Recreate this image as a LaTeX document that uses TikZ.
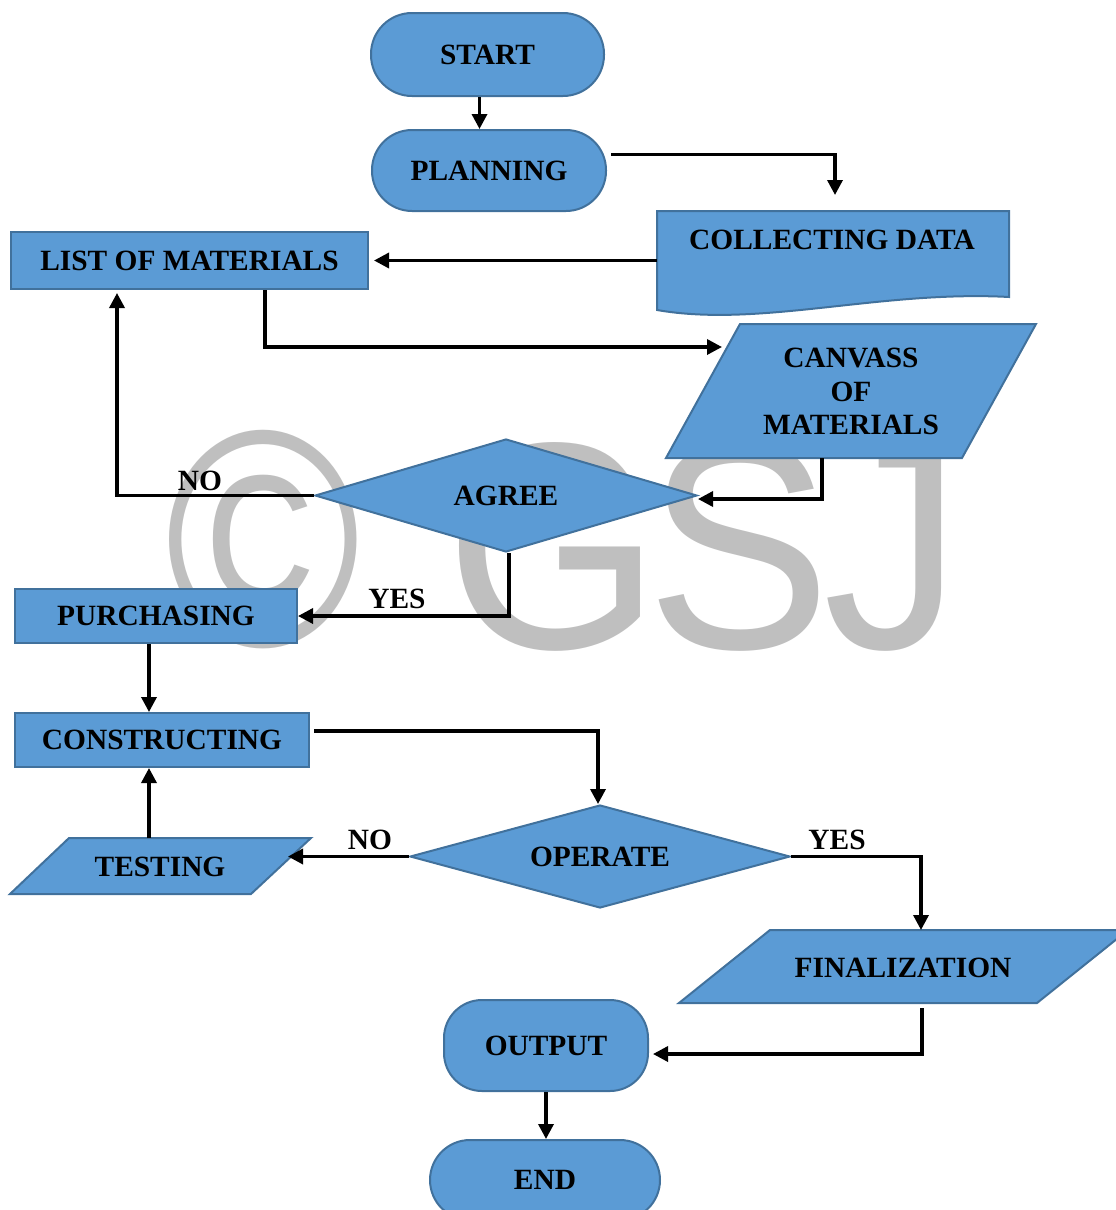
\documentclass[tikz,border=0pt]{standalone}
\usepackage{graphicx}
\usepackage{fontspec}
\setmainfont{Liberation Serif}
\newfontfamily\wmfont{Liberation Sans}
\usetikzlibrary{arrows.meta,shapes.geometric,backgrounds,calc}
\definecolor{fillb}{RGB}{91,155,213}
\definecolor{edgeb}{RGB}{65,113,156}
\definecolor{wmgray}{RGB}{191,191,191}
\begin{document}
\begin{tikzpicture}[x=1pt,y=-1pt,
  shp/.style={draw=edgeb, fill=fillb, line width=2pt},
  txt/.style={font=\fontsize{29.4}{33.5}\selectfont\bfseries, text=black, inner sep=0pt},
  term/.style={shp, txt, shape=rectangle, rounded corners=#1},
  term/.default=41pt,
  proc/.style={shp, txt, shape=rectangle},
  decis/.style={shp, txt, shape=diamond},
  box/.style={inner sep=0pt, outer sep=0pt, draw=none, shape=rectangle},
  wmark/.style={font=\wmfont\fontsize{295}{295}\selectfont, text=wmgray, anchor=base, inner sep=0pt},
  conn/.style={draw=black, line width=3.4pt, -{Triangle[length=15pt,width=15pt]}}
]
\useasboundingbox (0,0) rectangle (1116,1210);

% terminals and boxes with native shapes
\node[term=41pt, minimum width=233pt, minimum height=83pt] (start) at (487.5,54.5) {START};
\node[term=40pt, minimum width=234pt, minimum height=81pt] (plan) at (489,170.5) {PLANNING};
\node[proc, minimum width=357pt, minimum height=57pt] (list) at (189.5,260.5) {LIST OF MATERIALS};
\node[decis, aspect=3.38, minimum width=382pt, minimum height=113pt] (agree) at (506,495.5) {AGREE};
\node[proc, minimum width=282pt, minimum height=54pt] (purch) at (156,616) {PURCHASING};
\node[proc, minimum width=294pt, minimum height=54pt] (cons) at (162,740) {CONSTRUCTING};
\node[decis, aspect=3.69, minimum width=380pt, minimum height=103pt] (oper) at (600,856.5) {OPERATE};
\node[term=38pt, minimum width=204pt, minimum height=91pt] (out) at (546,1045.5) {OUTPUT};
\node[term=40pt, minimum width=230pt, minimum height=80pt] (end) at (545,1180) {END};

% frames of the drawn shapes
\node[box, minimum width=352pt, minimum height=99pt] (coll) at (833,260.5) {};
\node[txt] (colltxt) at (832,240) {COLLECTING DATA};
\node[box, minimum width=370pt, minimum height=134pt] (canv) at (851,391) {};
\node[txt, align=center] (canvtxt) at (851,391.5) {CANVASS\\OF\\MATERIALS};
\node[box, minimum width=301pt, minimum height=56pt] (test) at (160.5,866) {};
\node[txt] (testtxt) at (160,867) {TESTING};
\node[box, minimum width=449pt, minimum height=73pt] (fin) at (903.5,966.5) {};
\node[txt] (fintxt) at (903,968) {FINALIZATION};

\begin{scope}[on background layer]
  \node[wmark] (wmc) at (263,646) {\scalebox{0.9}[1.05]{©}};
  \node[wmark] (wmg) at (553,648) {\scalebox{0.94}[1]{G}};
  \node[wmark] (wms) at (739,648) {\scalebox{0.94}[1]{S}};
  \node[wmark] (wmj) at (893,648) {\scalebox{0.94}[1]{J}};
  \path[shp] (coll.north west) -- (coll.north east) -- ([yshift=13pt]coll.south east)
     .. controls (880,290) and (760,328) .. (coll.south west) -- cycle;
  \path[shp] ([xshift=74pt]canv.north west) -- (canv.north east) -- ([xshift=-74pt]canv.south east) -- (canv.south west) -- cycle;
  \path[shp] ([xshift=59pt]test.north west) -- (test.north east) -- ([xshift=-60pt]test.south east) -- (test.south west) -- cycle;
  \path[shp] ([xshift=91pt]fin.north west) -- (fin.north east) -- ([xshift=-91pt]fin.south east) -- (fin.south west) -- cycle;
\end{scope}

% labels
\node[txt] (no1) at (200,481) {NO};
\node[txt] (yes1) at (397,599) {YES};
\node[txt] (no2) at (370,840) {NO};
\node[txt] (yes2) at (837,840) {YES};

% connectors
\coordinate (a1) at ([xshift=-8pt]start.south);
\draw[conn] (a1) -- (a1 |- plan.north);
\draw[conn, shorten >=16pt] ([xshift=4pt,yshift=16pt]plan.east) -| ([xshift=2pt]coll.north);
\draw[conn, shorten >=5pt] (coll.west) -- (list.east);
\draw[conn] ([xshift=75.5pt]list.south) |- ([xshift=56pt,yshift=44pt]canv.west);
\draw[conn] ([xshift=-29pt]canv.south) |- ([yshift=-3.5pt]agree.east);
\draw[conn, shorten >=3pt] (agree.west) -| ([xshift=-72.5pt]list.south);
\draw[conn] ([xshift=3pt]agree.south) |- (purch.east);
\coordinate (a2) at ([xshift=-7pt]purch.south);
\draw[conn] (a2) -- (a2 |- cons.north);
\draw[conn] ([xshift=4pt,yshift=9pt]cons.east) -| ([xshift=-2pt]oper.north);
\draw[conn] (oper.west) -- ([xshift=-23pt,yshift=9.5pt]test.east);
\coordinate (a3) at ([xshift=-11.5pt]test.north);
\draw[conn] (a3) -- (a3 |- cons.south);
\draw[conn] (oper.east) -| ([xshift=17.5pt]fin.north);
\draw[conn, shorten >=4pt] ([xshift=18.5pt,yshift=-5pt]fin.south) |- ([yshift=-8.5pt]out.east);
\draw[conn] (out.south) -- (out.south |- end.north);
\end{tikzpicture}
\end{document}
